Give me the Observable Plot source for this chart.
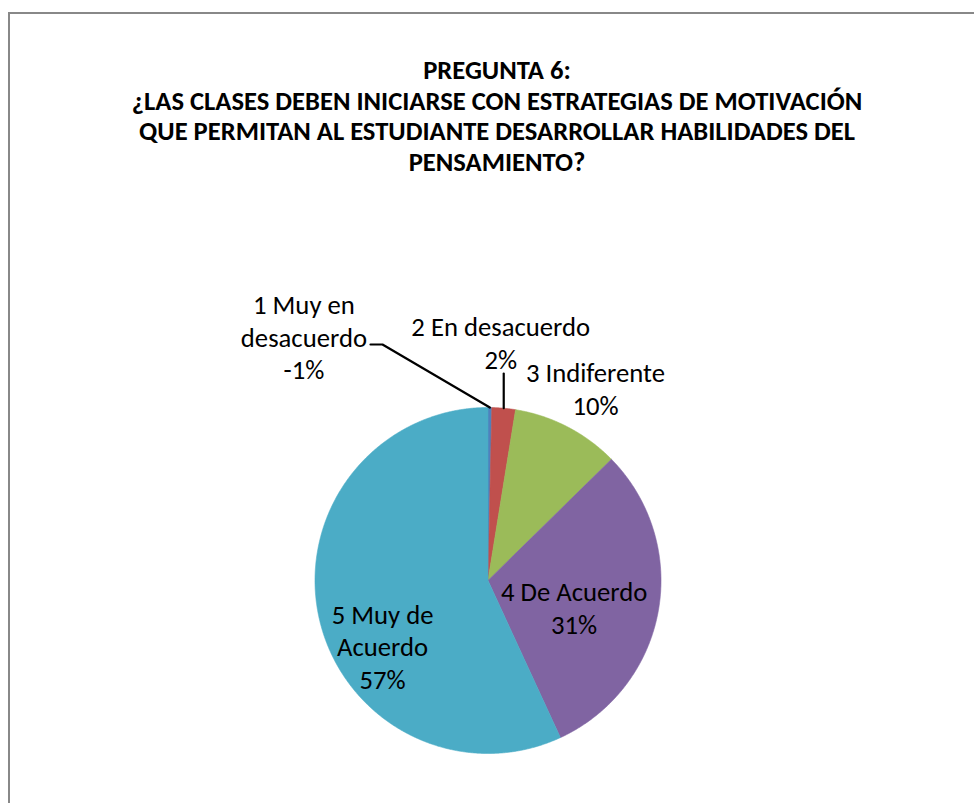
<!DOCTYPE html>
<html><head><meta charset="utf-8">
<script src="https://cdn.jsdelivr.net/npm/d3@7"></script>
<script src="https://cdn.jsdelivr.net/npm/@observablehq/plot@0.6"></script>
<style>
body{margin:0;background:#fff;}
#wrap{position:relative;width:974px;height:803px;overflow:hidden;font-family:Carlito, Lato, "Open Sans", sans-serif;}
#frame{position:absolute;left:8px;top:12px;width:980px;height:800px;border-top:2px solid #888;border-left:2px solid #888;}
#title{position:absolute;left:0px;width:994px;top:55px;text-align:center;font-weight:bold;font-size:26.6px;line-height:30.5px;color:#000;white-space:nowrap;}
#chart{position:absolute;left:0;top:0;}
</style></head>
<body><div id="wrap"><div id="frame"></div><div id="title"></div><div id="chart"></div></div>
<script>
// ---- data ----
const titleLines = [
  "PREGUNTA 6:",
  "¿LAS CLASES DEBEN INICIARSE CON ESTRATEGIAS DE MOTIVACIÓN",
  "QUE PERMITAN AL ESTUDIANTE DESARROLLAR HABILIDADES DEL",
  "PENSAMIENTO?"
];
const categories = ["1 Muy en desacuerdo", "2 En desacuerdo", "3 Indiferente", "4 De Acuerdo", "5 Muy de Acuerdo"];
const categoryLabels = ["1 Muy en\ndesacuerdo", "2 En desacuerdo", "3 Indiferente", "4 De Acuerdo", "5 Muy de\nAcuerdo"];
const values = [0.35, 2.2, 10.1, 30.5, 56.9];
const percentLabels = ["-1%", "2%", "10%", "31%", "57%"];

// ---- styles / layout ----
const colors = ["#4F81BD", "#C0504D", "#9BBB59", "#8064A2", "#4BACC6"];
// label anchor: radial fraction at slice mid-angle, then pixel offsets
const labelLayout = [
  {k: 1.0, dx: -186, dy: -71},
  {k: 1.0, dx: -3, dy: -66},
  {k: 1.0, dx: 28, dy: -39},
  {k: 0.6, dx: -16, dy: 8},
  {k: 0.6, dx: -4, dy: 43}
];
// leader lines in pixel offsets from the slice edge midpoint
const leaderLayout = [
  {slice: 0, pts: [[0, 0], [-107.4, -63], [-119.4, -63]]},
  {slice: 1, pts: [[0, 0], [0, -34.7]]}
];

document.getElementById("title").innerHTML = titleLines.map(t => `<div>${t}</div>`).join("");

const W = 974, H = 803;
const mL = 314.5, mR = 313.5, mT = 407, mB = 50;
const R = (W - mL - mR) / 2;

const arcs = d3.pie().sort(null).startAngle(0).endAngle(2 * Math.PI)(values);

const slicePts = arcs.map((a, i) => {
  const pts = [{x: 0, y: 0}];
  const n = Math.max(2, Math.ceil((a.endAngle - a.startAngle) / 0.005));
  for (let j = 0; j <= n; j++) {
    const t = a.startAngle + (a.endAngle - a.startAngle) * j / n;
    pts.push({x: Math.sin(t), y: Math.cos(t)});
  }
  pts.push({x: 0, y: 0});
  return pts;
});

const labels = arcs.map((a, i) => {
  const m = (a.startAngle + a.endAngle) / 2;
  const L = labelLayout[i];
  return {
    x: L.k * Math.sin(m), y: L.k * Math.cos(m),
    dx: L.dx, dy: L.dy,
    text: categoryLabels[i] + "\n" + percentLabels[i]
  };
});

const leaders = leaderLayout.map(l => {
  const a = arcs[l.slice];
  const m = (a.startAngle + a.endAngle) / 2;
  const ax = Math.sin(m), ay = Math.cos(m);
  return l.pts.map(([px, py]) => ({x: ax + px / R, y: ay - py / R}));
});

const plot = Plot.plot({
  width: W, height: H,
  marginLeft: mL, marginRight: mR, marginTop: mT, marginBottom: mB,
  x: {domain: [-1, 1], axis: null},
  y: {domain: [-1, 1], axis: null},
  style: {background: "transparent", fontFamily: "Carlito, Lato, 'Open Sans', sans-serif", overflow: "visible"},
  marks: [
    ...slicePts.map((pts, i) => Plot.line(pts, {x: "x", y: "y", fill: colors[i], stroke: colors[i], strokeWidth: 0.6, curve: "linear"})),
    ...leaders.map(pts => Plot.line(pts, {x: "x", y: "y", stroke: "#000", strokeWidth: 2.2})),
    ...labels.map(l => Plot.text([l], {x: "x", y: "y", text: "text", dx: l.dx, dy: l.dy, fontSize: 26.7, lineHeight: 1.22, fill: "#000", textAnchor: "middle"}))
  ]
});
document.getElementById("chart").appendChild(plot);
</script>
</body></html>
